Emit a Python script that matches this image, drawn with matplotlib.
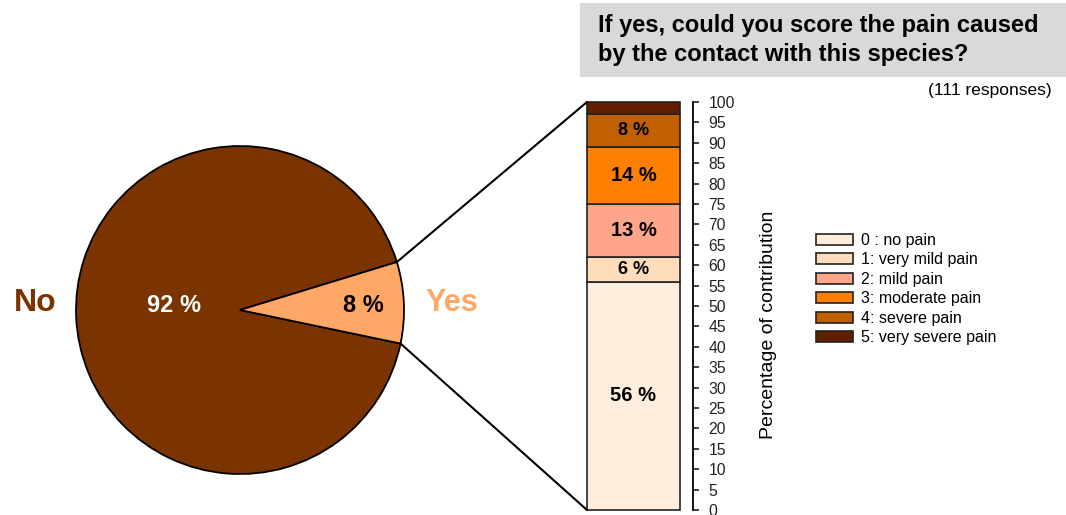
import numpy as np
import matplotlib
matplotlib.use("Agg")
import matplotlib.pyplot as plt
from matplotlib.patches import Patch, Rectangle, ConnectionPatch

plt.rcParams["font.family"] = ["Liberation Sans", "DejaVu Sans"]

# contact with the species: yes / no
pie_labels = ["No", "Yes"]
pie_values = [92, 8]
pie_colors = ["#7b3300", "#ffa866"]

# pain score among the "yes" answers (percent of contribution)
pain_levels = ["0 : no pain", "1: very mild pain", "2: mild pain",
               "3: moderate pain", "4: severe pain", "5: very severe pain"]
pain_values = [56, 6, 13, 14, 8, 3]
pain_shown = [True, True, True, True, True, False]
pain_colors = ["#ffeedd", "#ffddbb", "#ffa68a", "#ff8000", "#c06000", "#602000"]

title = "If yes, could you score the pain caused\nby the contact with this species?"
n_responses = 111

W, H = 1066, 515
fig = plt.figure(figsize=(W / 100, H / 100), dpi=100)


def px_axes(x0, y0, x1, y1):
    """Axes from pixel box (top-left origin)."""
    return fig.add_axes([x0 / W, 1 - y1 / H, (x1 - x0) / W, (y1 - y0) / H])


# ---- pie ----
ax_pie = px_axes(76, 146, 404, 474)
start = 17.0
wedges, _ = ax_pie.pie(pie_values, colors=pie_colors, startangle=start,
                       radius=1.0, counterclock=True,
                       wedgeprops=dict(edgecolor="black", linewidth=1.3))
ax_pie.set_xlim(-1, 1)
ax_pie.set_ylim(-1, 1)
ax_pie.set_axis_off()

ax_pie.text(-0.40, 0.03, f"{pie_values[0]} %", color="white", fontsize=17,
            fontweight="bold", ha="center", va="center")
ax_pie.text(0.75, 0.03, f"{pie_values[1]} %", color="black", fontsize=17,
            fontweight="bold", ha="center", va="center")
ax_pie.text(-1.25, 0.04, pie_labels[0], color=pie_colors[0], fontsize=23,
            fontweight="bold", ha="center", va="center", clip_on=False)
ax_pie.text(1.29, 0.04, pie_labels[1], color=pie_colors[1], fontsize=22,
            fontweight="bold", ha="center", va="center", clip_on=False)

# ---- stacked bar ----
ax_bar = px_axes(587, 102, 693, 510)
bar_w = 93 / 106
bottom = 0
for val, col, show in zip(pain_values, pain_colors, pain_shown):
    ax_bar.bar(0, val, bottom=bottom, width=bar_w, align="edge", color=col,
               edgecolor="#222222", linewidth=1.2, clip_on=False)
    if show:
        fs = 14.5 if val >= 10 else 13
        ax_bar.text(bar_w / 2, bottom + val / 2, f"{val} %", ha="center",
                    va="center", fontsize=fs, fontweight="bold")
    bottom += val

ax_bar.set_xlim(0, 1)
ax_bar.set_ylim(0, 100)
ax_bar.set_yticks(np.arange(0, 101, 5))
ax_bar.yaxis.tick_right()
ax_bar.yaxis.set_label_position("right")
ax_bar.tick_params(axis="y", direction="out", length=4, width=1.2, pad=7,
                   labelsize=11.3, colors="#222222")
ax_bar.set_xticks([])
for side in ("left", "top", "bottom"):
    ax_bar.spines[side].set_visible(False)
ax_bar.spines["right"].set_linewidth(1.3)
ax_bar.set_ylabel("Percentage of contribution", fontsize=14, rotation=90)
ax_bar.yaxis.set_label_coords((760 - 587) / 106, (510 - 325) / 408)
ax_bar.patch.set_visible(False)

# ---- lines joining the "Yes" wedge to the bar ----
yes = wedges[1]
for ang, ybar in ((yes.theta2, 100), (yes.theta1, 0)):
    t = np.deg2rad(ang)
    con = ConnectionPatch(xyA=(np.cos(t), np.sin(t)), coordsA=ax_pie.transData,
                          xyB=(0, ybar), coordsB=ax_bar.transData,
                          color="black", linewidth=1.5)
    fig.add_artist(con)

# ---- legend ----
handles = [Patch(facecolor=c, edgecolor="#222222", linewidth=1.2)
           for c in pain_colors]
fig.legend(handles, pain_levels, loc="upper left",
           bbox_to_anchor=(816 / W, 1 - 233 / H), frameon=False,
           fontsize=11.5, handlelength=2.3, handleheight=0.7,
           handletextpad=0.5, labelspacing=0.28, borderpad=0,
           borderaxespad=0)

# ---- question header ----
fig.add_artist(Rectangle((580 / W, 1 - 77 / H), (W - 580) / W, 74 / H,
                         transform=fig.transFigure, facecolor="#d9d9d9",
                         edgecolor="none", zorder=0))
fig.text(598 / W, 1 - 40 / H, title, fontsize=17, fontweight="bold",
         ha="left", va="center", linespacing=1.32)
fig.text(1052 / W, 1 - 91 / H, f"({n_responses} responses)", fontsize=12.5,
         ha="right", va="center")

fig.savefig("out.png", dpi=100, facecolor="white")
